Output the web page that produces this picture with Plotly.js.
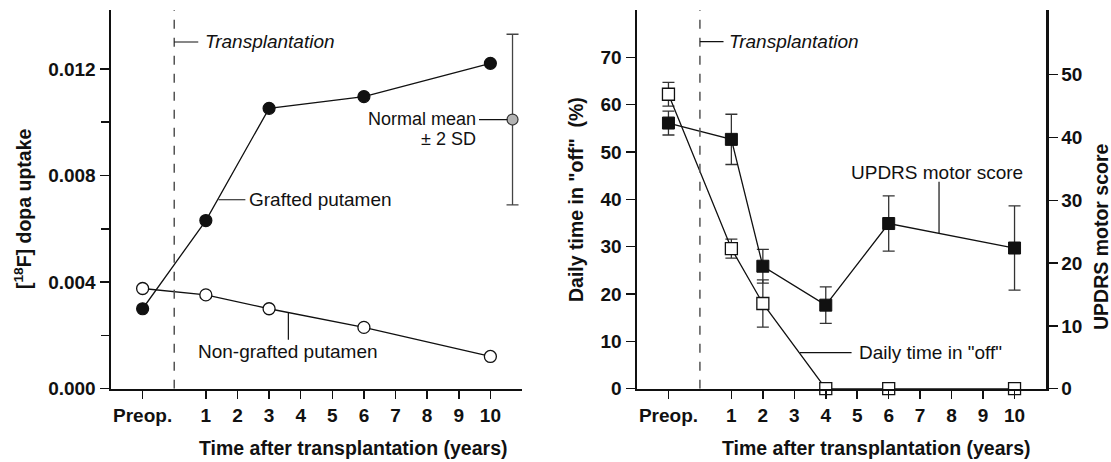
<!DOCTYPE html>
<html>
<head>
<meta charset="utf-8">
<script src="https://cdn.plot.ly/plotly-3.0.1.min.js"></script>
<style>html,body{margin:0;padding:0;background:#fff;}#chart{width:1111px;height:462px;}</style>
</head>
<body>
<div id="chart"></div>
<script>
// ---------- data ----------
// x positions: Preop. = -1, transplantation = 0, then years after transplantation
const tickVals = [-1, 1, 2, 3, 4, 5, 6, 7, 8, 9, 10];
const tickLabels = ['Preop.', '1', '2', '3', '4', '5', '6', '7', '8', '9', '10'];

// Left panel: [18F] dopa uptake
const petYears = [-1, 1, 3, 6, 10];
const graftedUptake = [0.0030, 0.00631, 0.01052, 0.01096, 0.01221];
const nonGraftedUptake = [0.00376, 0.00352, 0.00300, 0.00230, 0.00121];
const normalX = [10.7];
const normalMean = [0.0101];
const normalSD2 = [0.0032];

const leftYTickVals = [0, 0.004, 0.008, 0.012];
const leftYTickText = ['0.000', '0.004', '0.008', '0.012'];
const leftYMinorVals = [0.002, 0.006, 0.010];

// Right panel
const offYears = [-1, 1, 2, 4, 6, 10];
const dailyOff = [62.2, 29.6, 18.0, 0, 0, 0];
const dailyOffErr = [2.5, 2.0, 5.0, 0, 0, 0];
const updrsYears = [-1, 1, 2, 4, 6, 10];
const updrs = [42.3, 39.7, 19.5, 13.3, 26.3, 22.4];
const updrsErr = [1.9, 4.0, 2.7, 2.9, 4.4, 6.7];

const offTicks = [0, 10, 20, 30, 40, 50, 60, 70];
const updrsTicks = [0, 10, 20, 30, 40, 50];

// ---------- styling ----------
const W = 1111, H = 462;
const FONT = 'Liberation Sans, Arial, Helvetica, sans-serif';
const INK = '#111111';
const tickFont = {family: FONT, size: 19, color: INK, weight: 'bold'};
const annFont = {family: FONT, size: 19, color: INK};
const px = v => v / W;
const py = v => 1 - v / H;

const lineStyle = {color: INK, width: 1.3};
const errStyle = {thickness: 1.3, width: 6, color: '#333333'};

const traces = [
  {
    x: petYears, y: graftedUptake, xaxis: 'x', yaxis: 'y', type: 'scatter', mode: 'lines+markers',
    line: lineStyle, marker: {symbol: 'circle', size: 12, color: INK, line: {color: INK, width: 1.2}},
    cliponaxis: false, name: 'Grafted putamen'
  },
  {
    x: petYears, y: nonGraftedUptake, xaxis: 'x', yaxis: 'y', type: 'scatter', mode: 'lines+markers',
    line: lineStyle, marker: {symbol: 'circle', size: 12, color: '#ffffff', line: {color: INK, width: 1.3}},
    cliponaxis: false, name: 'Non-grafted putamen'
  },
  {
    x: normalX, y: normalMean, xaxis: 'x', yaxis: 'y', type: 'scatter', mode: 'markers',
    error_y: {type: 'data', array: normalSD2, visible: true, thickness: 1.3, width: 6, color: '#444444'},
    marker: {symbol: 'circle', size: 11, color: '#b3b3b3', line: {color: '#333333', width: 1.2}},
    cliponaxis: false, name: 'Normal mean'
  },
  {
    x: updrsYears, y: updrs, xaxis: 'x2', yaxis: 'y3', type: 'scatter', mode: 'lines+markers',
    line: lineStyle, error_y: Object.assign({type: 'data', array: updrsErr, visible: true}, errStyle),
    marker: {symbol: 'square', size: 12, color: INK, line: {color: INK, width: 1}},
    cliponaxis: false, name: 'UPDRS motor score'
  },
  {
    x: offYears, y: dailyOff, xaxis: 'x2', yaxis: 'y2', type: 'scatter', mode: 'lines+markers',
    line: lineStyle, error_y: Object.assign({type: 'data', array: dailyOffErr, visible: true}, errStyle),
    marker: {symbol: 'square', size: 12, color: '#ffffff', line: {color: INK, width: 1.3}},
    cliponaxis: false, name: 'Daily time in "off"'
  }
];

const baseX = {
  range: [-2, 11], tickmode: 'array', tickvals: tickVals, ticktext: tickLabels,
  ticks: 'outside', ticklen: 8, tickwidth: 1.5, tickcolor: INK,
  showline: true, linewidth: 2.5, linecolor: INK, showgrid: false, zeroline: false,
  tickfont: tickFont, fixedrange: true
};
const baseY = {
  ticks: 'outside', ticklen: 9, tickwidth: 1.5, tickcolor: INK,
  showline: true, linewidth: 2.5, linecolor: INK, showgrid: false, zeroline: false,
  tickfont: tickFont, fixedrange: true, tickmode: 'array'
};

const yBottom = py(388.7), yTop = py(10);

const layout = {
  width: W, height: H,
  margin: {l: 0, r: 0, t: 0, b: 0},
  paper_bgcolor: '#ffffff', plot_bgcolor: '#ffffff',
  showlegend: false,
  xaxis: Object.assign({}, baseX, {domain: [px(111), px(522)], anchor: 'y'}),
  yaxis: Object.assign({}, baseY, {domain: [yBottom, yTop], anchor: 'x', range: [0, 0.01421],
    tickvals: leftYTickVals, ticktext: leftYTickText,
    minor: {tickmode: 'array', tickvals: leftYMinorVals, ticks: 'outside', ticklen: 8,
      tickwidth: 1.5, tickcolor: INK, showgrid: false}}),
  xaxis2: Object.assign({}, baseX, {domain: [px(637), px(1046)], anchor: 'y2'}),
  yaxis2: Object.assign({}, baseY, {domain: [yBottom, yTop], anchor: 'x2', range: [0, 80],
    tickvals: offTicks, ticktext: offTicks.map(String)}),
  yaxis3: Object.assign({}, baseY, {overlaying: 'y2', side: 'right', anchor: 'x2', range: [0, 60.3],
    tickvals: updrsTicks, ticktext: updrsTicks.map(String)}),
  shapes: [
    // transplantation dashed lines
    {type: 'line', xref: 'x', yref: 'y', x0: 0, x1: 0, y0: 0, y1: 0.01421,
      line: {color: '#555555', width: 1.5, dash: 'dash'}},
    {type: 'line', xref: 'x2', yref: 'y2', x0: 0, x1: 0, y0: 0, y1: 80,
      line: {color: '#555555', width: 1.5, dash: 'dash'}},
    // leader lines left panel
    {type: 'line', xref: 'x', yref: 'y', x0: 0, x1: 0.76, y0: 0.01301, y1: 0.01301, line: {color: INK, width: 1.2}},
    {type: 'line', xref: 'x', yref: 'y', x0: 1.40, x1: 2.25, y0: 0.00709, y1: 0.00709, line: {color: INK, width: 1.2}},
    {type: 'line', xref: 'x', yref: 'y', x0: 3.61, x1: 3.61, y0: 0.00285, y1: 0.00184, line: {color: INK, width: 1.2}},
    {type: 'line', xref: 'x', yref: 'y', x0: 9.64, x1: 10.54, y0: 0.0101, y1: 0.0101, line: {color: INK, width: 1.2}},
    // leader lines right panel
    {type: 'line', xref: 'x2', yref: 'y2', x0: 0, x1: 0.75, y0: 73.3, y1: 73.3, line: {color: INK, width: 1.2}},
    {type: 'line', xref: 'x2', yref: 'y2', x0: 7.60, x1: 7.60, y0: 43.7, y1: 32.9, line: {color: INK, width: 1.2}},
    {type: 'line', xref: 'x2', yref: 'y2', x0: 3.18, x1: 4.82, y0: 7.6, y1: 7.6, line: {color: INK, width: 1.2}}
  ],
  annotations: [
    // axis titles
    {xref: 'paper', yref: 'paper', x: px(353), y: py(448), text: 'Time after transplantation (years)',
      showarrow: false, xanchor: 'center', yanchor: 'middle',
      font: {family: FONT, size: 19.5, color: INK, weight: 'bold'}},
    {xref: 'paper', yref: 'paper', x: px(876), y: py(448), text: 'Time after transplantation (years)',
      showarrow: false, xanchor: 'center', yanchor: 'middle',
      font: {family: FONT, size: 19.5, color: INK, weight: 'bold'}},
    {xref: 'paper', yref: 'paper', x: px(23), y: py(209), text: '[<sup>18</sup>F] dopa uptake',
      showarrow: false, xanchor: 'center', yanchor: 'middle', textangle: -90,
      font: {family: FONT, size: 19.5, color: INK, weight: 'bold'}},
    {xref: 'paper', yref: 'paper', x: px(576), y: py(200), text: 'Daily time in "off"  (%)',
      showarrow: false, xanchor: 'center', yanchor: 'middle', textangle: -90,
      font: {family: FONT, size: 19.5, color: INK, weight: 'bold'}},
    {xref: 'paper', yref: 'paper', x: px(1101), y: py(237), text: 'UPDRS motor score',
      showarrow: false, xanchor: 'center', yanchor: 'middle', textangle: -90,
      font: {family: FONT, size: 19.5, color: INK, weight: 'bold'}},
    // left panel labels
    {xref: 'x', yref: 'y', x: 0.9, y: 0.01301, text: 'Transplantation', showarrow: false,
      xanchor: 'left', yanchor: 'middle', font: Object.assign({}, annFont, {style: 'italic'})},
    {xref: 'x', yref: 'y', x: 2.3, y: 0.00709, text: 'Grafted putamen', showarrow: false,
      xanchor: 'left', yanchor: 'middle', font: annFont},
    {xref: 'x', yref: 'y', x: 3.61, y: 0.00139, text: 'Non-grafted putamen', showarrow: false,
      xanchor: 'center', yanchor: 'middle', font: annFont},
    {xref: 'x', yref: 'y', x: 9.6, y: 0.01012, text: 'Normal mean', showarrow: false,
      xanchor: 'right', yanchor: 'middle', font: {family: FONT, size: 18, color: INK}},
    {xref: 'x', yref: 'y', x: 9.6, y: 0.00938, text: '± 2 SD', showarrow: false,
      xanchor: 'right', yanchor: 'middle', font: {family: FONT, size: 18, color: INK}},
    // right panel labels
    {xref: 'x2', yref: 'y2', x: 0.86, y: 73.3, text: 'Transplantation', showarrow: false,
      xanchor: 'left', yanchor: 'middle', font: Object.assign({}, annFont, {style: 'italic'})},
    {xref: 'x2', yref: 'y2', x: 4.75, y: 45.7, text: 'UPDRS motor score', showarrow: false,
      xanchor: 'left', yanchor: 'middle', font: annFont},
    {xref: 'x2', yref: 'y2', x: 4.98, y: 7.6, text: 'Daily time in "off"', showarrow: false,
      xanchor: 'left', yanchor: 'middle', font: annFont}
  ]
};

Plotly.newPlot('chart', traces, layout, {staticPlot: true, displayModeBar: false});
</script>
</body>
</html>
